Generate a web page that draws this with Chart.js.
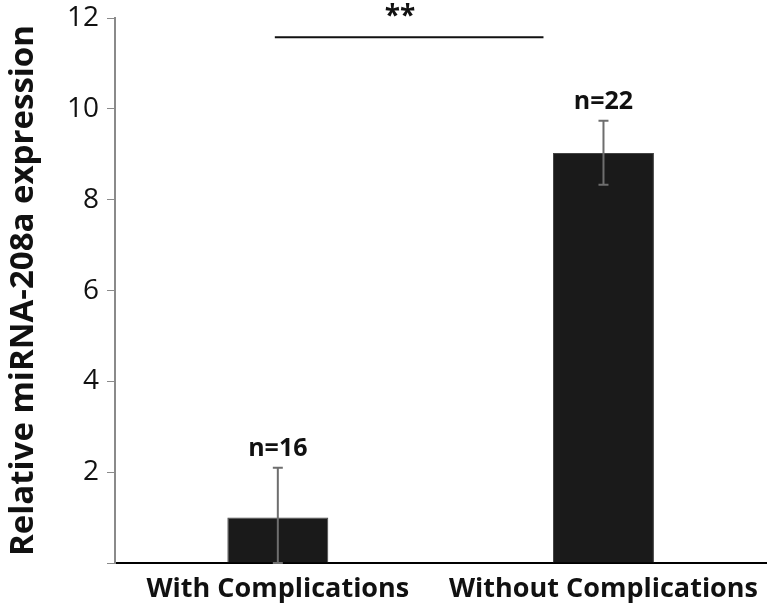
<!DOCTYPE html>
<html>
<head>
<meta charset="utf-8">
<script src="https://cdn.jsdelivr.net/npm/chart.js@4.4.1/dist/chart.umd.min.js"></script>
<style>
  html, body { margin: 0; padding: 0; background: #fff; }
  #wrap { width: 768px; height: 614px; }
</style>
</head>
<body>
<div id="wrap"><canvas id="myChart"></canvas></div>
<script>
// date
const categorii = ["With Complications", "Without Complications"];
const valori = [1.0, 9.03];
const eroareJos = [0.0, 8.33];
const eroareSus = [2.1, 9.74];
const etichetaN = ["n=16", "n=22"];
const yTicks = [0, 2, 4, 6, 8, 10, 12];
const semnificatie = "**";
const nivelSemnificatie = 11.58;

// bare de eroare + n=.. + linia de semnificatie
const extraPlugin = {
  id: "extra",
  afterDatasetsDraw(chart) {
    const ctx = chart.ctx;
    const x = chart.scales.x;
    const y = chart.scales.y;
    ctx.save();
    for (let i = 0; i < valori.length; i++) {
      const cx = x.getPixelForValue(i);
      const yTop = y.getPixelForValue(eroareSus[i]);
      const yBot = y.getPixelForValue(eroareJos[i]);
      ctx.strokeStyle = "#6e6e6e";
      ctx.lineWidth = 2;
      ctx.beginPath();
      ctx.moveTo(cx, yTop);
      ctx.lineTo(cx, yBot);
      ctx.moveTo(cx - 5, yTop);
      ctx.lineTo(cx + 5, yTop);
      ctx.moveTo(cx - 5, yBot);
      ctx.lineTo(cx + 5, yBot);
      ctx.stroke();

      ctx.fillStyle = "#111";
      ctx.font = "bold 25px 'Open Sans', sans-serif";
      ctx.textAlign = "center";
      ctx.textBaseline = "middle";
      ctx.fillText(etichetaN[i], cx, yTop - 19);
    }
    // linia de semnificatie
    const x0 = x.getPixelForValue(0) - 3;
    const x1 = x.getPixelForValue(1) - 60;
    const ys = y.getPixelForValue(nivelSemnificatie);
    ctx.strokeStyle = "#111";
    ctx.lineWidth = 2;
    ctx.beginPath();
    ctx.moveTo(x0, ys);
    ctx.lineTo(x1, ys);
    ctx.stroke();
    ctx.font = "bold 28px 'Open Sans', sans-serif";
    ctx.textBaseline = "middle";
    ctx.fillText(semnificatie, 400, ys - 20);
    ctx.restore();
  },
};

const ctx = document.getElementById("myChart");
new Chart(ctx, {
  type: "bar",
  data: {
    labels: categorii,
    datasets: [
      {
        data: valori,
        backgroundColor: "#1a1a1a",
        borderColor: "#444",
        borderWidth: 1,
        barPercentage: 0.31,
        categoryPercentage: 1,
      },
    ],
  },
  options: {
    responsive: true,
    maintainAspectRatio: false,
    animation: false,
    layout: { padding: { top: 0, right: 0, left: 0, bottom: 0 } },
    plugins: {
      legend: { display: false },
      tooltip: { enabled: false },
    },
    scales: {
      x: {
        grid: { display: false, drawTicks: false },
        border: { color: "#000", width: 2 },
        ticks: {
          color: "#111",
          padding: 10,
          font: { family: "'Open Sans', sans-serif", size: 27, weight: "bold" },
        },
        afterFit(scale) {
          scale.height = 51;
        },
      },
      y: {
        min: 0,
        max: 12,
        afterBuildTicks(scale) {
          scale.ticks = yTicks.map((v) => ({ value: v }));
        },
        grid: { drawOnChartArea: false, color: "#8a8a8a", tickLength: 8 },
        border: { color: "#8a8a8a", width: 2 },
        ticks: {
          color: "#111",
          padding: 8,
          font: { family: "'Open Sans', sans-serif", size: 28, lineHeight: 0.72 },
          callback: (v) => (v === 0 ? "" : v),
        },
        title: {
          display: true,
          text: "Relative miRNA-208a expression",
          color: "#111",
          padding: { top: 4, bottom: 4 },
          font: { family: "'Open Sans', sans-serif", size: 33, weight: "bold" },
        },
        afterFit(scale) {
          scale.width = 115;
        },
      },
    },
  },
  plugins: [extraPlugin],
});
</script>
</body>
</html>
